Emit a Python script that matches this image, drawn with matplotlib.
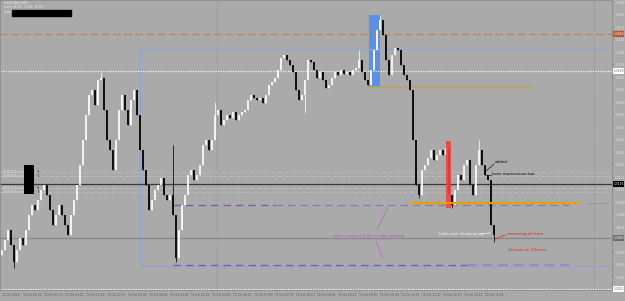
import matplotlib
matplotlib.use("Agg")
import matplotlib.pyplot as plt
from matplotlib.patches import Rectangle
import matplotlib.transforms as mtransforms

# --- M5 candles, closes (bar spacing ~3 px) ---
first_open = 1.3045
closes = [
    1.3050, 1.3060, 1.3070, 1.3055, 1.3038, 1.3050, 1.3062, 1.3055, 1.3070, 1.3085,
    1.3095, 1.3090, 1.3100, 1.3110, 1.3115, 1.3105, 1.3090, 1.3075, 1.3085, 1.3095,
    1.3085, 1.3075, 1.3065, 1.3085, 1.3100, 1.3115, 1.3135, 1.3160, 1.3185, 1.3205,
    1.3210, 1.3195, 1.3220, 1.3222, 1.3190, 1.3160, 1.3150, 1.3130, 1.3160, 1.3190,
    1.3205, 1.3190, 1.3175, 1.3200, 1.3210, 1.3185, 1.3150, 1.3130, 1.3115, 1.3090,
    1.3100, 1.3110, 1.3115, 1.3122, 1.3105, 1.3100, 1.3105, 1.3085, 1.3042, 1.3070,
    1.3095, 1.3105, 1.3125, 1.3130, 1.3120, 1.3125, 1.3135, 1.3155, 1.3160, 1.3150,
    1.3160, 1.3185, 1.3190, 1.3175, 1.3180, 1.3185, 1.3182, 1.3188, 1.3180, 1.3185,
    1.3188, 1.3190, 1.3200, 1.3205, 1.3202, 1.3200, 1.3202, 1.3197, 1.3205, 1.3215,
    1.3218, 1.3222, 1.3230, 1.3242, 1.3245, 1.3240, 1.3235, 1.3228, 1.3210, 1.3200,
    1.3205, 1.3220, 1.3240, 1.3238, 1.3230, 1.3222, 1.3228, 1.3220, 1.3212, 1.3215,
    1.3222, 1.3228, 1.3225, 1.3230, 1.3226, 1.3228, 1.3225, 1.3230, 1.3232, 1.3240,
    1.3228, 1.3220, 1.3215, 1.3230, 1.3250, 1.3270, 1.3280, 1.3265, 1.3240, 1.3225,
    1.3245, 1.3252, 1.3250, 1.3235, 1.3225, 1.3220, 1.3210, 1.3160, 1.3115, 1.3105,
    1.3130, 1.3135, 1.3142, 1.3150, 1.3140, 1.3145, 1.3150, 1.3145, 1.3152, 1.3105,
    1.3095, 1.3110, 1.3125, 1.3120, 1.3135, 1.3140, 1.3115, 1.3105, 1.3135, 1.3150,
    1.3135, 1.3125, 1.3120, 1.3075, 1.3065,
]
# long wicks that stick out of the bodies
spike_highs = {33: 1.3228, 57: 1.3155, 71: 1.3198, 119: 1.3250, 126: 1.3284, 159: 1.3160}
spike_lows = {4: 1.3032, 58: 1.3038, 101: 1.3187, 139: 1.3102, 150: 1.3092, 164: 1.3058}

# --- horizontal levels / drawn objects ---
level_red_dash = 1.3266
level_white_top = 1.3229
level_close = 1.3116
level_grey = 1.3062
level_white_bot = 1.3011
faint_levels = [1.3128, 1.3124, 1.3112, 1.3108]
tan_line = (121.3, 177.0, 1.3213)
orange_line = (136.0, 192.7, 1.3097)
purple_upper = 1.3095
purple_lower = 1.3035
box_blue = (46.0, 1.3034, 1.3251)          # left bar, bottom, top
momentum_blue = (122.3, 126.0, 1.3213, 1.3285)
momentum_red = (148.0, 149.7, 1.3092, 1.3159)
vlines_dotted = [71.7, 197.3]

price_ticks = [1.3298, 1.3286, 1.3273, 1.3261, 1.3248, 1.3236, 1.3223, 1.3211,
               1.3198, 1.3186, 1.3173, 1.3161, 1.3148, 1.3136, 1.3123, 1.3111,
               1.3098, 1.3086, 1.3073, 1.3061, 1.3048, 1.3036, 1.3023, 1.3011]
time_tick_bars = [0, 7, 14, 21, 28, 35, 42, 49, 56, 63, 70, 77, 84, 91, 98, 105,
                  112, 119, 126, 133, 140, 147, 154, 161]
time_labels = ["15 Oct 2018", "15 Oct 00:35", "15 Oct 01:10", "15 Oct 01:45",
               "15 Oct 02:20", "15 Oct 02:55", "15 Oct 03:30", "15 Oct 04:05",
               "15 Oct 04:40", "15 Oct 05:15", "15 Oct 05:50", "15 Oct 06:25",
               "15 Oct 07:00", "15 Oct 07:35", "15 Oct 08:10", "15 Oct 08:45",
               "15 Oct 09:20", "15 Oct 09:55", "15 Oct 10:30", "15 Oct 11:05",
               "15 Oct 11:40", "15 Oct 12:15", "15 Oct 12:50", "15 Oct 13:25"]

BG = "#aaaaaa"
FS = 3.0

fig = plt.figure(figsize=(6.25, 3.01), dpi=100, facecolor=BG)
ax = fig.add_axes([0.0, 11 / 301, 612 / 625, 290 / 301], facecolor=BG)
ax.set_xlim(-0.67, 203.33)
ax.set_ylim(1.3010, 1.3300)

# candles
opens = [first_open] + closes[:-1]
for i, (o, c) in enumerate(zip(opens, closes)):
    hi = spike_highs.get(i, max(o, c))
    lo = spike_lows.get(i, min(o, c))
    col = "#f2f2f2" if c >= o else "#111111"
    ax.vlines(i, lo, hi, color=col, lw=0.6, zorder=3)
    ax.bar(i, max(abs(c - o), 0.00008), bottom=min(o, c), width=0.45, color=col,
           lw=0, zorder=3)

# momentum boxes
x0, x1, y0, y1 = momentum_blue
ax.add_patch(Rectangle((x0, y0), x1 - x0, y1 - y0, color="#5c8fe6", lw=0, zorder=2))
x0, x1, y0, y1 = momentum_red
ax.add_patch(Rectangle((x0, y0), x1 - x0, y1 - y0, color="#ee4444", lw=0, zorder=4, alpha=0.9))

# big light-blue range box (runs off the right edge)
bx, by0, by1 = box_blue
ax.add_patch(Rectangle((bx, by0), 300, by1 - by0, fill=False, ec="#8ea4d6", lw=0.8, zorder=2))

# full-width levels
ax.axhline(level_red_dash, color="#c87a5a", lw=0.9, ls=(0, (6, 3)), zorder=2)
ax.axhline(level_white_top, color="#f4f4f4", lw=0.9, ls=(0, (1, 1)), zorder=2)
ax.axhline(level_white_bot, color="#f4f4f4", lw=0.9, ls=(0, (1, 1)), zorder=2)
ax.axhline(level_close, color="#3a3a3a", lw=0.9, zorder=2)
ax.axhline(level_grey, color="#858585", lw=0.9, zorder=2)
for lv in faint_levels:
    ax.axhline(lv, color="#c4c4c4", lw=0.5, ls=(0, (5, 2, 1, 2)), zorder=1)
for vx in vlines_dotted:
    ax.axvline(vx, color="#8a8a8a", lw=0.6, ls=(0, (1, 1.5)), zorder=1)

# drawn trend levels
ax.hlines(tan_line[2], tan_line[0], tan_line[1], color="#b9a46a", lw=1.2, zorder=2)
ax.hlines(orange_line[2], orange_line[0], orange_line[1], color="#e6a000", lw=1.5, zorder=5)
ax.hlines(purple_upper, 57, 91, color="#7f52b8", lw=0.9, ls=(0, (6, 4)), zorder=2)
ax.hlines(purple_upper, 91, 189, color="#8a76b6", lw=0.9, ls=(0, (6, 4)), zorder=2)
ax.hlines(purple_lower, 57, 155, color="#7f52b8", lw=0.9, ls=(0, (6, 4)), zorder=2)
ax.hlines(purple_lower, 155, 189, color="#9888c4", lw=1.4, ls=(0, (5, 3)), zorder=2)
ax.hlines(orange_line[2], 195, 202, color="#777777", lw=0.6, ls=(0, (1, 1.5)), zorder=2)

# annotations
ax.text(164.3, 1.3138, "added", fontsize=FS, color="#111111", va="center")
ax.plot([164, 161], [1.3136, 1.3128], color="#222222", lw=0.5)
ax.text(163.3, 1.3126, "bear momentum bar", fontsize=FS, color="#111111", va="center")
ax.plot([161, 163], [1.3125, 1.3125], color="#222222", lw=0.5)
ax.text(110.3, 1.3064, "area i suspect bulls to take waiting", fontsize=FS,
        color="#c050c0", va="center")
ax.plot([128.7, 125], [1.3093, 1.3070], color="#b060c0", lw=0.5)
ax.plot([124.7, 127], [1.3058, 1.3042], color="#b060c0", lw=0.5)
ax.text(145.7, 1.3066, "bulls now showing up", fontsize=FS, color="#f4f4f4", va="center")
ax.plot([159.3, 162.7], [1.3066, 1.3067], color="#f4f4f4", lw=0.5)
ax.text(168.3, 1.3066, "removing all here", fontsize=FS, color="#e02020", va="center")
ax.plot([164.3, 167.7], [1.3061, 1.3065], color="#e02020", lw=0.5)
ax.text(168.7, 1.3050, "all news in 20mins", fontsize=FS, color="#e02020", va="center")

# order labels with black block on the left
ax.add_patch(Rectangle((7.3, 1.3106), 3.4, 0.0029, color="black", lw=0, zorder=6))
for lv, n in zip(faint_levels, ["3", "1", "6", "3"]):
    ax.text(0.2, lv, "#OXT0H02 sell", fontsize=2.0, color="#e8e8e8", va="center", zorder=6)
    ax.text(11.6, lv, n, fontsize=2.6, color="#333333", va="center", zorder=6)

# top-left header
fig.text(4 / 625, 1 - 3 / 301, "USDCAD,M5", fontsize=FS, color="#e8e8e8", va="center")
fig.text(4 / 625, 1 - 7.5 / 301, "Lots: 0.01  0.00  0.00", fontsize=2.6, color="#e8e8e8", va="center")
fig.text(4 / 625, 1 - 12.5 / 301, "Stop:", fontsize=2.6, color="#e8e8e8", va="center")
fig.patches.append(Rectangle((12 / 625, 1 - 16 / 301), 59 / 625, 6.5 / 301, color="black",
                             transform=fig.transFigure, figure=fig))

# axes, ticks
for s in ax.spines.values():
    s.set_color("#8c8c8c")
    s.set_linewidth(0.6)

highlights = [(level_red_dash, "#c0542a", "white"), (level_white_top, "white", "#666666"),
              (level_close, "black", "white"), (level_grey, "#6e6e6e", "white"),
              (level_white_bot, "white", "#666666")]
# the highlight boxes cover the regular scale labels they sit on
hl_prices = [h[0] for h in highlights]
shown_ticks = [p for p in price_ticks if min(abs(p - h) for h in hl_prices) > 0.0004]

ax.yaxis.tick_right()
ax.set_yticks(shown_ticks)
ax.set_yticklabels([f"{p:.4f}" for p in shown_ticks])
ax.set_xticks(time_tick_bars)
ax.set_xticklabels(time_labels, ha="left")
ax.tick_params(axis="y", labelsize=2.2, colors="#8c8c8c", labelcolor="#e6e6e6",
               length=1.2, width=0.5, pad=0.6)
ax.tick_params(axis="x", labelsize=2.1, colors="#8c8c8c", labelcolor="#5a5a5a",
               length=1.5, width=0.5, pad=1.0)

# price highlight boxes on the price scale
trans = mtransforms.blended_transform_factory(ax.transAxes, ax.transData)
for lv, fc, tc in highlights:
    ax.text(1.002, lv, f"{lv:.4f}", transform=trans, fontsize=2.2, color=tc, va="center",
            ha="left", clip_on=False, zorder=7,
            bbox=dict(boxstyle="square,pad=0.2", fc=fc, ec="none"))

fig.savefig("out.png", dpi=100, facecolor=BG)
